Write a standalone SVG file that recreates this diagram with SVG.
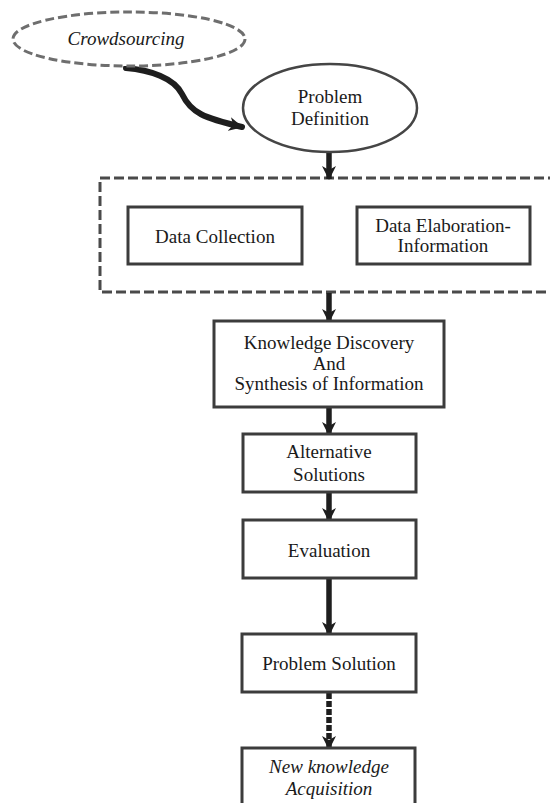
<svg xmlns="http://www.w3.org/2000/svg" width="550" height="803" viewBox="0 0 550 803">
  <style>
    .t { font-family: "Liberation Serif", "Times New Roman", serif; font-size: 19px; fill: #1a1a1a; text-anchor: middle; }
    .it { font-style: italic; }
    .box { fill: #ffffff; stroke: #3c3c3c; stroke-width: 3; }
    .oval { fill: #ffffff; stroke: #454545; stroke-width: 2.5; }
    .dashoval { fill: #ffffff; stroke: #6e6e6e; stroke-width: 3; stroke-dasharray: 9 4; }
    .group { fill: none; stroke: #4a4a4a; stroke-width: 3; stroke-dasharray: 10 4; }
    .arrow { fill: none; stroke: #1e1e1e; stroke-width: 5.5; marker-end: url(#head); }
    .curvy { stroke-width: 6; stroke-linecap: round; }
    .dashed { stroke-dasharray: 6 2; }
  </style>
  <defs>
    <marker id="head" markerUnits="userSpaceOnUse" markerWidth="16" markerHeight="16" refX="13" refY="8" orient="auto">
      <path d="M0,1 L4,8 L0,15 L14,8 Z" fill="#1e1e1e"/>
    </marker>
  </defs>

  <rect width="550" height="803" fill="#ffffff"/>

  <!-- dashed grouping frame -->
  <g id="data-group">
    <rect class="group" x="100" y="178" width="460" height="114"/>
  </g>

  <g id="connectors">
    <path class="arrow curvy" d="M126,68 C150,70 174,78 182,94 C191,113 204,118 242,127"/>
    <path class="arrow" d="M329,153 L329,179"/>
    <path class="arrow" d="M329,293 L329,322"/>
    <path class="arrow" d="M329,408 L329,435"/>
    <path class="arrow" d="M329,493 L329,521"/>
    <path class="arrow" d="M329,579 L329,635"/>
    <path class="arrow dashed" d="M329,693 L329,749"/>
  </g>

  <g id="crowdsourcing">
    <ellipse class="dashoval" cx="129" cy="39" rx="116" ry="27"/>
    <text class="t it" x="126" y="45">Crowdsourcing</text>
  </g>

  <g id="problem-definition">
    <ellipse class="oval" cx="330" cy="108" rx="87" ry="44"/>
    <text class="t" x="330" y="103">Problem</text>
    <text class="t" x="330" y="125">Definition</text>
  </g>

  <g id="data-collection">
    <rect class="box" x="128" y="207" width="174" height="57"/>
    <text class="t" x="215" y="243">Data Collection</text>
  </g>

  <g id="data-elaboration">
    <rect class="box" x="357" y="207" width="173" height="57"/>
    <text class="t" x="443" y="232">Data Elaboration-</text>
    <text class="t" x="443" y="252">Information</text>
  </g>

  <g id="knowledge-discovery">
    <rect class="box" x="214" y="321" width="230" height="86"/>
    <text class="t" x="329" y="349">Knowledge Discovery</text>
    <text class="t" x="329" y="370">And</text>
    <text class="t" x="329" y="390">Synthesis of Information</text>
  </g>

  <g id="alternative-solutions">
    <rect class="box" x="243" y="434" width="173" height="58"/>
    <text class="t" x="329" y="458">Alternative</text>
    <text class="t" x="329" y="481">Solutions</text>
  </g>

  <g id="evaluation">
    <rect class="box" x="243" y="520" width="173" height="58"/>
    <text class="t" x="329" y="557">Evaluation</text>
  </g>

  <g id="problem-solution">
    <rect class="box" x="242" y="634" width="174" height="58"/>
    <text class="t" x="329" y="670">Problem Solution</text>
  </g>

  <g id="new-knowledge">
    <rect class="box" x="242" y="748" width="173" height="70"/>
    <text class="t it" x="329" y="773">New knowledge</text>
    <text class="t it" x="329" y="795">Acquisition</text>
  </g>
</svg>
